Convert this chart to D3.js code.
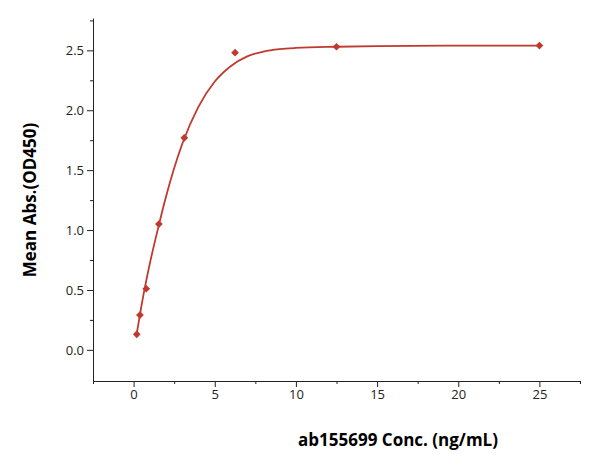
<!DOCTYPE html><html><head><script src="https://cdn.jsdelivr.net/npm/d3@7"></script>
<style>body{margin:0;background:#fff}text{font-family:"Open Sans","Liberation Sans",Arial,sans-serif}</style></head><body>
<svg id="c" width="600" height="465"></svg>
<script>
const conc=[0.195,0.39,0.78,1.56,3.125,6.25,12.5,25];
const absVals=[0.13,0.29,0.51,1.05,1.77,2.48,2.53,2.54];
const fitX=[0.2,0.5,1,1.5,2,3,4,5,6,7,8,9,10,12.5,15,20,25];
const fitY=[0.14,0.38,0.72,1.01,1.28,1.72,2.03,2.24,2.37,2.45,2.49,2.51,2.52,2.53,2.535,2.54,2.54];
const xTicks=[0,5,10,15,20,25], yTicks=[0,0.5,1,1.5,2,2.5];
const col="#c0392f";
const svg=d3.select("#c");
const x=d3.scaleLinear().domain([-2.5,27.5]).range([93,580]);
const y=d3.scaleLinear().domain([-0.26,2.77]).range([381,18]);
const gx=svg.append("g").attr("transform","translate(0,381)");
gx.call(d3.axisBottom(x).tickValues(xTicks).tickFormat(d3.format("d")).tickSize(6).tickSizeOuter(0));
gx.append("g").call(d3.axisBottom(x).tickValues(d3.range(-2.5,27.6,5)).tickFormat("").tickSize(3).tickSizeOuter(0)).select(".domain").remove();
const gy=svg.append("g").attr("transform","translate(93,0)");
gy.call(d3.axisLeft(y).tickValues(yTicks).tickFormat(d3.format(".1f")).tickSize(6).tickSizeOuter(0));
gy.append("g").call(d3.axisLeft(y).tickValues(d3.range(0.25,2.76,0.5)).tickFormat("").tickSize(3).tickSizeOuter(0)).select(".domain").remove();
svg.selectAll(".tick text").attr("font-size",13).attr("fill","#222");
svg.selectAll(".domain,.tick line").attr("stroke","#222");
svg.append("path").datum(fitX.map((v,i)=>[v,fitY[i]])).attr("fill","none").attr("stroke",col).attr("stroke-width",1.8)
 .attr("d",d3.line().x(d=>x(d[0])).y(d=>y(d[1])).curve(d3.curveMonotoneX));
svg.selectAll(".pt").data(conc).join("path").attr("fill",col)
 .attr("transform",(d,i)=>`translate(${x(d)},${y(absVals[i])}) rotate(45)`).attr("d",d3.symbol(d3.symbolSquare,30));
svg.append("text").attr("x",398).attr("y",446).attr("text-anchor","middle").attr("font-weight","bold").attr("font-size",17).text("ab155699 Conc. (ng/mL)");
svg.append("text").attr("transform","translate(36,200) rotate(-90)").attr("text-anchor","middle").attr("font-weight","bold").attr("font-size",17).text("Mean Abs.(OD450)");
</script></body></html>
